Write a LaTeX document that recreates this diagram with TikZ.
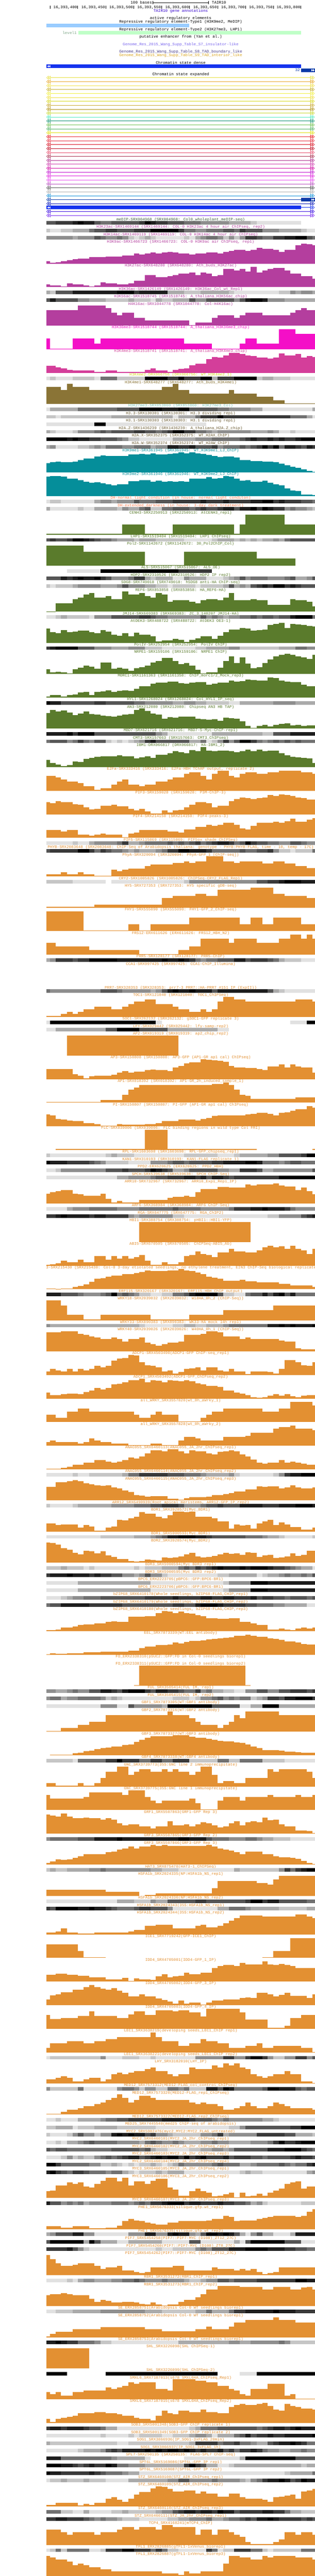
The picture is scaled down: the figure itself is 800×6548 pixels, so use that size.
\documentclass[tikz,border=0pt]{standalone}
\usepackage{fontspec}
\setmainfont{Liberation Mono}
\definecolor{lv1}{HTML}{E1E1E1}\definecolor{lv2}{HTML}{C6C6C6}\definecolor{lv3}{HTML}{AAAAAA}
\definecolor{lv4}{HTML}{8E8E8E}\definecolor{lv5}{HTML}{717171}\definecolor{lv6}{HTML}{555555}
\definecolor{lv7}{HTML}{393939}\definecolor{lv8}{HTML}{1D1D1D}\definecolor{lv9}{HTML}{000000}
\definecolor{cpur}{HTML}{B43E9E}\definecolor{cmag}{HTML}{F40FC7}\definecolor{cmet}{HTML}{D43E9A}
\definecolor{cyel}{HTML}{D8D820}\definecolor{cbrn}{HTML}{8A7436}\definecolor{ctel}{HTML}{7CC4B4}
\definecolor{colv}{HTML}{6B5A30}\definecolor{cteal}{HTML}{058E9A}\definecolor{ccor}{HTML}{FF7F50}
\definecolor{cgrn}{HTML}{5A7B2C}\definecolor{corg}{HTML}{E39032}\definecolor{cmed}{HTML}{3A5A3C}
\definecolor{dblue}{HTML}{1533EE}\definecolor{nblue}{HTML}{0A3AA8}
\newcount\cy \cy=557
\newcount\tn \tn=0
\def\snapx#1{\ifnum#1>1559 \def\sx{800}\else\pgfmathtruncatemacro\sx{round(127+14.18*round((#1/1.96-127)/14.18))}\fi}
\def\tracklabel#1#2{\global\advance\tn by 1 \node[lbl,text=#2] (lab\the\tn) at (459,\the\cy+3.5) {#1};}
\def\den#1#2#3{\tracklabel{#1}{#2}\xdef\px{118}%
 \foreach \e/\l in {#3}{\snapx{\e}\ifnum\l>0 \fill[lv\l] (\px,\the\cy+5) rectangle (\sx,\the\cy+14);\fi\xdef\px{\sx}}%
 \global\advance\cy by 19 }
\def\wig#1#2#3{\tracklabel{#1}{#2}\xdef\px{118}%
 \foreach \e/\h in {#3}{\snapx{\e}\ifnum\h>0 \fill[#2] (\px,\the\cy+56-\h) rectangle (\sx,\the\cy+56);\fi\xdef\px{\sx}}%
 \global\advance\cy by 60 }
\def\chl#1#2{\draw[#2,line width=.9pt] (123,#1-4) -- (118.5,#1) -- (123,#1+4) -- cycle (128,#1-4) -- (123.5,#1) -- (128,#1+4) -- cycle;}
\def\chr#1#2{\draw[#2,line width=.9pt] (794,#1-4) -- (798.5,#1) -- (794,#1+4) -- cycle (789,#1-4) -- (793.5,#1) -- (789,#1+4) -- cycle;}
\def\wl#1{\fill[white] (124,#1-3) -- (120,#1) -- (124,#1+3) -- cycle (128,#1-3) -- (124,#1) -- (128,#1+3) -- cycle;}
\def\wr#1{\fill[white] (791,#1-3) -- (795,#1) -- (791,#1+3) -- cycle (795,#1-3) -- (799,#1) -- (795,#1+3) -- cycle;}
\def\stateline#1#2{\chl{#1.5}{#2}\chr{#1.5}{#2}\fill[#2] (128,#1) rectangle (789,#1+1);}
\begin{document}
\catcode`\_=12
\begin{tikzpicture}[x=1pt,y=-1pt,
 lbl/.style={inner sep=0pt,anchor=base,font=\fontsize{10}{10}\selectfont},
 rul/.style={inner sep=0pt,anchor=base east,font=\fontsize{10}{10}\selectfont}]
\useasboundingbox[fill=white] (0,0) rectangle (800,6548);
% header
\node[rul] (sb1) at (386,9.5) {100 bases};
\coordinate (sbl) at (388,6.5); \coordinate (sbr) at (530,6.5);
\draw[line width=1pt] (sbl) -- (sbr);
\draw[line width=1pt] (388.5,3) -- (388.5,11) (529.5,3) -- (529.5,11);
\node[lbl,anchor=base west] (sb2) at (538,9.5) {TAIR10};
\draw[line width=1pt] (127,14) -- (127,22) (197.5,14) -- (197.5,22) (268.5,14) -- (268.5,22) (339.5,14) -- (339.5,22) (410.5,14) -- (410.5,22) (481.5,14) -- (481.5,22) (552.5,14) -- (552.5,22) (623.5,14) -- (623.5,22) (694.5,14) -- (694.5,22) (764.5,14) -- (764.5,22);
\node[rul] (r1) at (196,21.5) {16,393,400};
\node[rul] (r2) at (267,21.5) {16,393,450};
\node[rul] (r3) at (338,21.5) {16,393,500};
\node[rul] (r4) at (409,21.5) {16,393,550};
\node[rul] (r5) at (480,21.5) {16,393,600};
\node[rul] (r6) at (551,21.5) {16,393,650};
\node[rul] (r7) at (622,21.5) {16,393,700};
\node[rul] (r8) at (693,21.5) {16,393,750};
\node[rul] (r9) at (763,21.5) {16,393,800};
\node[lbl,text={rgb,255:red,51;green,0;blue,204}] (h1) at (459,30.5) {TAIR10 gene annotations};
\node[lbl] (h2) at (459,49.5) {active regulatory elements};
\node[lbl] (h3) at (459,58.5) {Repressive regulatory element-Type1 (H3K9me2, MeDIP)};
\fill[fill={rgb,255:red,153;green,204;blue,255}] (118,60) rectangle (481,69);
\node[lbl] (h4) at (459,77.5) {Repressive regulatory element-Type2 (H3K27me3, LHP1)};
\node[rul,text={rgb,255:red,128;green,168;blue,138}] (h5) at (195,86.5) {level1};
\fill[fill={rgb,255:red,192;green,255;blue,200}] (199,79) rectangle (765,88);
\node[lbl] (h6) at (459,96.5) {putative enhancer from (Yan et al.)};
\node[lbl,text={rgb,255:red,123;green,104;blue,238}] (h7) at (459,115.5) {Genome_Res_2015_Wang_Supp_Table_S7_insulator-like};
\node[lbl,text={rgb,255:red,72;green,61;blue,139}] (h8) at (459,134.5) {Genome_Res_2015_Wang_Supp_Table_S8_TAD_boundary_like};
\node[lbl,text={rgb,255:red,218;green,165;blue,32}] (h9) at (459,143.5) {Genome_Res_2015_Wang_Supp_Table_S9_TAD_interior_like};
\node[lbl] (h10) at (459,162.5) {Chromatin state dense};
\fill[dblue] (118,164) rectangle (765,173); \wl{168.5}
\node[rul,text=nblue] (h11) at (762,181.5) {32};
\fill[nblue] (765,174) rectangle (800,183); \wr{178.5}
\node[lbl] (h12) at (459,191.5) {Chromatin state expanded};
% expanded states
\def\scol#1#2{\definecolor{tmpc}{HTML}{#2}\stateline{#1}{tmpc}}
\scol{197}{E8E040}\scol{207}{E8A830}\scol{217}{F0E048}\scol{227}{C8B030}\scol{237}{F0F040}\scol{247}{F0E040}
\scol{257}{D8D820}\scol{267}{C8A830}\scol{277}{B09010}\scol{287}{C8D830}\scol{297}{50E8C0}\scol{307}{109070}
\scol{317}{70C050}\scol{327}{50B060}\scol{337}{E0E010}\scol{347}{E81820}\scol{357}{E83040}\scol{367}{D81020}
\scol{377}{C00820}\scol{387}{E85070}\scol{397}{A83050}\scol{407}{B03090}\scol{417}{D040B0}\scol{427}{D000A0}
\scol{437}{C010D0}\scol{447}{E020E0}\scol{457}{E850F0}\scol{467}{B850C0}\scol{477}{505050}\scol{487}{B0B0B0}
\scol{497}{1090D8}
\chl{507.5}{nblue}\fill[nblue] (128,507) rectangle (765,508);\fill[nblue] (765,503) rectangle (800,512);\wr{507.5}
\scol{517}{0818B8}
\chr{527.5}{dblue}\fill[dblue] (118,523) rectangle (765,532);\fill[dblue] (765,527) rectangle (789,528);\wl{527.5}
\scol{537}{3A10E0}\scol{547}{7A30F0}
% tracks
\den{meDIP-SRX004968 (SRX004968: Col0_wholeplant_meDIP-seq)}{cmed}{276/6,361/7,388/8,416/9,472/8,500/6,555/5,694/6,721/7,749/9,778/8,833/7,917/6,1000/5,1139/4,1250/3,1278/2,1499/1}
\den{H3K23ac-SRX1469144 (SRX1469144: COL-0 H3K23ac 4 hour air ChIPseq, rep2)}{cpur}{249/2,304/1,361/2,443/3,472/5,527/6,582/7,666/6,749/7,888/9,917/7,972/5,1027/4,1111/5,1166/6,1194/5,1223/7,1305/6,1390/4,1500/3,1529/2,1566/1}
\den{H3K14ac-SRX1469119 (SRX1469119: COL-0 H3K14ac 4 hour air ChIPseq)}{cpur}{361/4,388/3,472/4,500/6,527/5,582/4,610/5,639/4,666/2,694/1,721/2,749/3,778/2,917/1,945/2,972/1,1000/3,1027/4,1084/5,1111/4,1139/2,1166/4,1194/2,1223/4,1278/7,1305/6,1362/5,1417/7,1472/8,1529/9,1556/6,1566/5}
\wig{H3K9ac-SRX1466723 (SRX1466723: COL-0 H3K9ac air ChIPseq, rep1)}{cpur}{249/6,276/2,304/4,333/6,361/9,388/11,443/13,527/16,610/18,666/21,694/26,721/23,749/26,778/28,806/26,833/28,860/30,888/28,945/26,972/23,1027/26,1084/28,1111/26,1139/30,1166/32,1223/35,1250/32,1278/35,1305/40,1362/37,1390/35,1417/30,1472/35,1500/47,1529/51,1556/49,1566/47}
\wig{H3K27ac-SRX648280 (SRX648280: Ath_buds_H3K27ac)}{cpur}{249/7,304/4,333/2,361/10,416/7,443/4,472/2,500/4,527/13,582/10,639/7,666/10,721/16,778/31,833/25,860/28,888/31,945/34,972/37,1000/31,1027/37,1055/34,1084/28,1111/31,1166/46,1194/42,1223/46,1250/40,1278/51,1305/37,1333/42,1362/46,1417/49,1445/42,1500/34,1556/28,1566/22}
\den{H3K36ac-SRX1426149 (SRX1426149: H3K36ac_Col_wt_Rep1)}{cpur}{249/3,276/2,361/6,582/8,666/9,694/7,833/8,917/3,1000/2,1139/3,1166/2,1390/1,1445/2,1472/4,1500/3,1556/4,1566/3}
\den{H3K56ac-SRX1518745 (SRX1518745: A_thaliana_H3K56ac_chip)}{cpur}{249/6,276/8,388/6,443/4,527/3,639/2,666/3,749/2,778/1,806/3,860/2,945/3,972/6,1027/4,1166/6,1194/4,1223/6,1250/8,1305/9,1333/8,1417/4,1566/3}
\wig{H4K16ac-SRX1044778 (SRX1044778: Col-H4K16ac)}{cpur}{388/39,527/51,555/45,582/33,610/26,666/33,721/20,945/14,972/2,1055/8,1084/20,1166/26,1194/20,1223/26,1305/33,1445/26,1472/33,1500/39,1529/45,1566/39}
\wig{H3K36me3-SRX1518744 (SRX1518744: A_thaliana_H3K36me3_chip)}{cmag}{249/27,361/2,472/27,500/14,917/27,1055/14,1194/2,1223/14,1278/27,1390/14,1472/51,1566/39}
\wig{H3K4me3-SRX1518741 (SRX1518741: A_thaliana_H3K4me3_chip)}{cmet}{276/18,304/14,333/12,361/8,472/6,500/3,527/2,582/6,639/2,666/3,694/2,721/3,749/8,778/12,833/6,860/3,888/8,917/10,945/12,972/20,1027/23,1055/35,1084/41,1111/39,1139/45,1194/51,1223/48,1250/45,1278/43,1333/39,1362/37,1390/39,1417/50,1472/45,1500/48,1529/39,1556/43,1566/41}
\den{H3K4me2-DRX066756 (DRX066756: WT_H3K4me2_1)}{cyel}{249/1,276/2,361/1,472/2,500/1,582/5,721/2,833/9,888/7,917/9,1000/7,1055/9,1084/3,1166/7,1278/9,1305/2,1362/3,1445/2,1566/1}
\wig{H3K4me1-SRX648277 (SRX648277: Ath_buds_H3K4me1)}{cbrn}{304/43,333/35,361/51,443/43,806/35,860/43,888/51,945/35,1139/27,1166/35,1278/27,1362/18,1417/10,1566/2}
\den{H3K27me3-SRX853860 (SRX853860: H3K27me3_Col)}{ctel}{249/1,388/3,582/5,694/6,806/9,888/8,945/9,1084/6,1139/5,1250/4,1305/3,1556/1,1566/3}
\den{H3.3-SRX130301 (SRX130301: H3.3 dividing rep1)}{colv}{276/2,304/1,555/2,860/3,888/1,972/3,1000/5,1084/7,1111/9,1445/7,1529/5,1556/3,1566/1}
\den{H3.1-SRX130303 (SRX130303: H3.1 dividing rep1)}{colv}{472/1,527/9,1027/1}
\den{H2A.Z-SRX1436239 (SRX1436239: A_thaliana_H2A.Z_chip)}{colv}{249/3,276/2,361/1,388/2,472/4,500/5,527/6,555/5,666/6,721/7,778/6,806/5,833/6,860/7,917/9,972/7,1027/5,1055/4,1084/3,1250/4,1333/3,1362/4,1390/3,1445/1,1472/2,1566/1}
\den{H2A.X-SRX352375 (SRX352375: WT_H2AX_ChIP)}{colv}{333/9,361/8,388/9,443/8,500/7,582/6,610/5,639/4,694/2,860/1,972/3,1055/4,1194/5,1223/6,1250/7,1278/8,1333/7,1362/8,1390/7,1417/8,1472/7,1500/8,1566/9}
\den{H2A.W-SRX352374 (SRX352374: WT_H2AW_ChIP)}{colv}{249/3,276/4,388/1,443/2,472/3,500/4,527/3,610/5,666/4,749/5,778/3,833/4,888/8,945/7,972/8,1055/6,1084/7,1111/4,1194/5,1223/6,1250/5,1278/6,1305/7,1333/9,1362/7,1390/9,1417/5,1472/8,1500/7,1529/6,1556/8,1566/7}
\wig{H3K9me1-SRX361945 (SRX361945: WT_H3K9me1_LJ_ChIP)}{cteal}{249/24,276/26,304/27,361/26,388/27,416/31,443/35,472/36,500/41,527/43,639/42,694/46,721/47,749/46,778/48,833/46,860/47,888/48,917/51,945/49,972/51,1000/49,1027/47,1055/44,1084/42,1111/40,1166/41,1194/38,1250/31,1305/29,1333/28,1362/27,1390/26,1417/22,1445/19,1472/14,1500/12,1529/8,1556/4,1566/2}
\wig{H3K9me2-SRX361946 (SRX361946: WT_H3K9me2_LJ_ChIP)}{cteal}{249/50,304/51,333/50,361/45,388/44,416/40,443/36,472/34,500/35,527/32,555/30,582/28,639/30,694/38,749/40,778/36,806/39,833/37,860/38,888/36,917/38,945/37,972/44,1027/45,1055/48,1084/45,1111/46,1139/51,1166/50,1194/45,1223/39,1250/40,1278/36,1305/37,1333/39,1362/34,1390/30,1417/27,1445/19,1472/14,1500/13,1556/4,1566/2}
\den{DH-normal_light_condition (in house: normal light conditon)}{ccor}{249/1,304/2,472/1,500/3,555/4,582/3,666/4,694/6,778/5,860/6,1000/7,1027/8,1111/7,1139/8,1250/7,1305/8,1362/9,1390/7,1417/8,1500/7,1556/6,1566/5}
\den{DH-extended_darkness (in house: 3-day dark treatment)}{ccor}{249/3,388/1,416/2,472/1,582/3,610/2,639/4,694/3,721/5,749/6,806/2,860/5,945/6,972/5,1000/6,1027/7,1084/6,1111/7,1166/8,1194/6,1250/8,1278/9,1305/7,1333/9,1362/8,1417/7,1445/4,1472/5,1529/4,1556/3,1566/2}
\wig{CENH3-SRX2250913 (SRX2250913: AtCENH3_rep1)}{cgrn}{610/2,721/26,860/2,1166/26,1194/2,1223/26,1417/51,1566/26}
\den{LHP1-SRX1519404 (SRX1519404: LHP1 ChIPseq)}{cgrn}{249/6,276/7,333/6,361/7,416/9,443/8,472/7,500/6,555/5,582/4,666/3,694/2,778/3,917/2,1055/1,1084/2,1166/3,1194/2,1223/3,1250/2,1278/3,1305/2,1362/3,1390/4,1417/3,1445/5,1566/6}
\wig{Pol2-SRX1142672 (SRX1142672: 30_Pol2ChIP_Col)}{cgrn}{416/51,721/35,917/2,1278/35,1472/18}
\den{AL5-SRX515067 (SRX515067: AL5_OE)}{cgrn}{333/0,500/1,888/9,1054/7}
\den{HDP2-SRX2310526 (SRX2310526: HDP2 IP rep2)}{cgrn}{304/6,333/8,361/7,388/8,416/9,472/8,500/9,527/7,555/6,639/4,666/5,721/7,749/3,778/2,860/3,917/1,945/4,1027/3,1111/1,1139/2,1166/3,1194/4,1223/6,1250/4,1333/5,1417/4,1445/5,1472/6,1529/3,1556/4,1566/6}
\den{SDG8-SRX749018 (SRX749018: hSDG8 anti-HA ChIP-seq)}{cgrn}{249/2,276/1,361/2,388/3,500/4,582/3,610/4,639/6,721/4,778/3,833/2,860/1,972/2,1000/1,1111/2,1139/3,1166/6,1194/3,1223/4,1250/3,1278/6,1305/7,1333/8,1362/7,1417/9,1445/7,1472/8,1500/7,1566/6}
\wig{REF6-SRX853858 (SRX853858: HA_REF6-HA)}{cgrn}{276/1,361/21,388/32,416/36,443/44,472/48,527/36,555/40,610/32,639/51,694/44,721/48,749/40,778/36,806/48,833/44,860/25,945/29,972/25,1000/21,1027/29,1084/32,1111/29,1139/36,1166/48,1250/29,1278/32,1333/29,1445/17,1472/32,1529/29,1556/25,1566/13}
\den{JMJ14-SRX669383 (SRX669383: ZC_3_140207 JMJ14-HA)}{cgrn}{276/1,304/2,333/3,443/2,472/1,555/4,694/6,749/7,778/6,833/5,1000/4,1027/6,1055/4,1084/5,1111/4,1139/3,1194/4,1250/5,1278/6,1305/5,1362/6,1390/5,1445/6,1472/8,1556/9,1566/5}
\wig{AtDEK3-SRX488722 (SRX488722: AtDEK3 OE3-1)}{cgrn}{249/36,276/27,304/24,333/33,361/27,388/29,443/31,472/27,500/24,527/33,555/29,582/20,610/18,639/24,666/17,694/26,749/20,778/17,806/4,860/6,888/10,917/8,945/2,972/8,1000/12,1055/17,1084/10,1111/18,1139/27,1194/34,1223/38,1250/36,1278/31,1305/33,1333/34,1362/45,1390/48,1417/51,1445/38,1472/48,1500/47,1529/45,1556/43,1566/41}
\den{PolIV-SRX252954 (SRX252954: PolIV ChIP)}{cgrn}{249/7,276/8,388/9,472/6,555/4,639/3,721/4,806/2,972/1,1027/2,1139/3,1194/4,1390/2,1472/3,1529/5,1566/4}
\wig{NRPE1-SRX159106 (SRX159106: NRPE1 ChIP)}{cgrn}{249/12,276/4,304/5,333/4,361/2,388/12,416/16,443/21,472/19,500/13,555/29,582/13,610/16,639/13,666/8,694/15,721/17,749/21,778/29,806/33,860/41,888/33,917/25,945/28,972/21,1000/11,1027/2,1084/4,1111/16,1139/33,1166/45,1194/28,1223/42,1250/26,1278/15,1305/17,1333/28,1362/37,1390/44,1417/48,1445/51,1472/48,1500/45,1529/42,1556/38,1566/48}
\wig{MORC1-SRX1161363 (SRX1161358: ChIP_morc1/2_Mock_rep3)}{cgrn}{249/3,304/6,333/2,361/7,388/8,416/13,443/14,472/7,500/14,527/15,555/18,582/14,610/17,639/18,666/17,694/22,721/28,749/29,778/35,833/38,888/40,917/36,945/35,972/38,1027/39,1055/32,1084/35,1139/38,1166/43,1194/40,1223/42,1250/46,1278/44,1333/43,1362/51,1390/49,1417/43,1445/40,1500/39,1529/32,1556/29,1566/28}
\den{HYL1-SRX1268024 (SRX1268024: Col_HYL1_IP_seq)}{cgrn}{249/9,304/8,472/6,527/7,666/6,721/5,860/4,917/3,972/4,1027/3,1139/2,1194/1,1362/3,1472/4,1566/3}
\wig{AN3-SRX212080 (SRX212080: Chipseq AN3 HB TAP)}{cgrn}{249/39,276/48,304/44,333/46,361/41,388/34,416/38,443/43,472/37,500/35,527/33,555/32,582/30,610/33,639/36,666/37,694/48,721/51,749/45,778/38,806/36,833/25,860/29,888/28,972/30,1000/25,1027/24,1055/23,1084/24,1111/20,1139/28,1166/26,1194/25,1223/18,1250/7,1278/2,1305/7,1333/10,1362/5,1390/9,1417/12,1445/13,1472/8,1500/9,1529/7,1566/8}
\den{MBD7-SRX621716 (SRX621716: MBD7-5-Myc-ChIP-rep1)}{cgrn}{333/8,361/9,388/7,472/9,778/6,806/4,833/3,1055/1,1305/3,1362/2,1445/6,1566/8}
\den{CMT3-SRX157663 (SRX157663: CMT3_ChIPseq)}{cgrn}{249/5,333/6,361/4,388/5,416/7,443/5,472/4,527/6,555/2,582/1,610/2,639/1,666/2,694/3,721/4,749/7,778/8,945/6,1000/3,1027/5,1055/1,1084/2,1111/4,1139/7,1166/4,1194/6,1250/9,1278/7,1305/5,1333/4,1362/5,1390/6,1417/5,1445/6,1472/5,1500/6,1566/5}
\wig{IBM1-DRX066817 (DRX066817: HA-IBM1_2)}{cgrn}{249/18,276/11,304/6,333/2,361/5,388/15,416/13,443/21,472/23,500/26,555/27,582/28,610/30,666/28,694/22,721/25,749/27,778/23,833/31,860/35,888/41,917/38,945/35,972/43,1000/40,1027/51,1055/42,1084/40,1139/42,1166/40,1194/38,1223/40,1250/44,1278/41,1305/44,1333/40,1390/42,1417/36,1445/30,1472/26,1500/25,1529/23,1556/22,1566/10}
\wig{E2Fa-SRX333416 (SRX333416: E2Fa-HBH TChAP output, replicate 2)}{corg}{276/38,304/34,333/29,388/24,416/20,472/11,500/2,555/6,582/15,610/24,639/29,694/15,721/11,778/15,833/24,860/29,917/34,945/43,1000/47,1027/38,1055/29,1084/43,1139/51,1166/38,1194/34,1223/43,1278/47,1333/43,1390/47,1500/51,1556/47,1566/43}
\wig{PIF3-SRX159028 (SRX159028: P3M-ChIP-3)}{corg}{249/31,276/29,304/33,361/31,388/26,416/24,443/18,472/12,500/14,527/22,555/22,582/24,639/20,666/14,694/10,721/14,749/8,806/2,833/10,860/5,888/10,917/11,945/18,972/24,1027/31,1055/29,1084/18,1139/22,1166/33,1194/39,1223/43,1250/41,1278/39,1305/41,1333/43,1362/49,1390/47,1417/51,1445/49,1472/47,1500/43,1529/41,1566/37}
\wig{PIF4-SRX214150 (SRX214150: PIF4-peaks-3)}{corg}{304/20,333/16,388/20,443/8,472/6,500/8,527/11,610/8,639/2,666/11,694/14,833/20,888/16,917/14,972/21,1027/28,1055/33,1084/31,1111/33,1166/38,1194/34,1223/24,1250/21,1278/31,1362/38,1390/41,1417/38,1445/42,1472/49,1529/41,1556/46,1566/51}
\den{PIF5-SRX115869 (SRX115869: PIF5ox shade ChIPSeq)}{corg}{361/1,388/2,443/1,472/3,582/4,610/5,639/7,694/3,721/4,833/5,860/6,888/5,917/6,945/5,972/6,1000/7,1027/5,1055/6,1084/7,1139/8,1166/7,1194/5,1223/6,1250/9,1278/7,1333/6,1390/5,1445/4,1500/6,1529/5,1566/4}
\den{PHYB-SRX2083648 (SRX2083648: ChIP-Seq of Arabidopsis thaliana: genotype - PHYB:PHYB-FLAG, time - 10, temp - 17C)}{corg}{249/6,388/7,443/9,472/7,500/5,527/7,555/6,610/5,639/4,666/3,694/4,778/3,806/4,833/5,888/7,945/9,1027/8,1055/7,1194/5,1223/6,1278/5,1333/6,1362/7,1390/4,1445/2,1472/1,1556/2,1566/5}
\wig{PhyA-SRX320094 (SRX320094: PhyA-GFP_1 [ChIP-seq])}{corg}{304/6,333/11,388/6,416/11,472/6,555/2,582/18,610/13,639/18,721/20,749/26,860/31,917/34,945/39,972/34,1027/39,1111/51,1166/39,1194/34,1305/39,1362/33,1417/39,1472/33,1529/26,1566/21}
\den{CRY2-SRX1005826 (SRX1005826: ChIPSeq-CRY2_FLAG_Rep1)}{corg}{361/2,527/1,555/0,917/1,945/2,1278/4,1333/6,1390/7,1417/8,1500/9,1566/8}
\wig{HY5-SRX727353 (SRX727353: HY5 specific gDB-seq)}{corg}{472/2,806/7,860/24,972/29,1027/35,1084/29,1250/46,1362/51,1417/35,1529/29,1566/24}
\wig{FHY1-SRX555090 (SRX555090: FHY1-GFP_2_ChIP-seq)}{corg}{416/51,639/2,694/18,749/2,945/18,1194/35,1250/18,1305/35,1362/18,1500/35,1566/18}
\wig{FRS12-ERX611626 (ERX611626: FRS12_HBH_N2)}{corg}{276/31,443/21,694/12,888/2,945/12,1000/21,1139/41,1166/31,1278/41,1390/31,1445/41,1500/51,1529/41,1556/51,1566/41}
\den{PRR5-SRX128177 (SRX128177: PRR5-ChIP)}{corg}{249/3,276/4,361/7,388/6,443/7,582/9,806/8,833/9,888/8,917/9,945/8,972/7,1000/5,1027/4,1084/5,1166/6,1223/8,1250/6,1333/7,1362/6,1390/5,1417/3,1500/2,1566/1}
\wig{CCA1-SRX997425 (SRX997425: CCA1-ChIP_Illumina)}{corg}{1566/0}
\den{PRR7-SRX328353 (SRX328353: prr7-3 PRR7::HA-PRR7 \#151 IP (ExpII))}{corg}{249/5,500/4,582/6,610/5,749/4,778/3,806/4,833/6,860/8,888/9,945/8,972/9,1055/8,1084/6,1333/8,1362/6,1390/3,1417/2,1566/1}
\wig{TOC1-SRX121040 (SRX121040: TOC1_ChIPSeq)}{corg}{304/2,333/8,361/13,388/8,416/13,472/20,555/26,610/20,639/26,666/32,721/39,778/44,860/32,888/26,945/20,1000/13,1027/20,1055/13,1084/20,1111/39,1166/51,1223/44,1472/39,1556/44,1566/39}
\den{SOC1-SRX262132 (SRX262132: gSOC1-GFP replicate 3)}{corg}{249/1,778/9,806/1,1445/0,1529/1,1566/9}
\den{LFY-SRX029442 (SRX029442: lfy-samp-rep2)}{corg}{276/1,527/3,582/6,694/9,833/6,1084/3,1139/1}
\wig{AP2-SRX019319 (SRX019319: ap2_chip_rep2)}{corg}{333/0,888/51}
\wig{AP3-SRX150808 (SRX150808: AP3-GFP (AP1-GR ap1 cal) ChIPseq)}{corg}{361/25,388/12,416/8,443/2,472/7,527/9,555/8,582/11,610/16,639/20,666/17,721/19,749/23,778/24,833/23,860/21,888/29,917/33,945/40,1000/42,1027/51,1055/49,1084/48,1111/46,1139/44,1166/33,1223/29,1278/28,1305/25,1333/23,1390/32,1417/37,1445/30,1472/38,1500/32,1556/29,1566/16}
\wig{AP1-SRX018392 (SRX018392: AP1-GR_2h_induced_sample_1)}{corg}{500/2,610/7,639/20,666/33,694/39,1055/45,1111/48,1139/51,1166/45,1194/33,1223/20,1250/17,1472/10,1566/13}
\wig{PI-SRX150807 (SRX150807: PI-GFP (AP1-GR ap1 cal) ChIPseq)}{corg}{249/30,276/28,304/19,333/17,361/15,416/13,472/8,500/6,582/2,610/6,721/4,778/6,806/8,888/13,972/17,1000/15,1027/19,1055/21,1084/26,1223/28,1250/30,1278/32,1333/34,1362/32,1390/28,1417/34,1445/36,1472/39,1529/43,1556/51,1566/48}
\wig{FLC-SRX039006 (SRX039006: FLC binding regions in wild type Col FRI)}{corg}{276/0,721/2,833/51,1278/2,1556/0,1566/2}
\den{RPL-SRX1603698 (SRX1603698: RPL-GFP_chipseq_rep1)}{corg}{249/2,527/1,555/2,582/3,666/2,917/1,1084/2,1166/1,1194/2,1333/3,1390/4,1500/6,1529/7,1566/9}
\den{KAN1-SRX310193 (SRX310193: KAN1-FLAG replicate 1)}{corg}{249/9,333/8,443/7,472/6,500/5,527/4,639/2,749/1,833/4,860/5,917/6,945/5,1055/6,1111/7,1223/8,1278/9,1305/8,1390/5,1417/4,1445/5,1500/6,1566/5}
\den{PPD2-ERX620625 (ERX620625: PPD2_HBH)}{corg}{276/1,304/2,527/4,610/6,639/7,721/6,749/7,778/9,806/8,833/7,860/6,917/3,945/4,1084/6,1139/4,1194/3,1278/7,1305/6,1362/3,1556/4,1566/6}
\den{SPCH-SRX539638 (SRX539638: SPCH ChIP-Seq)}{corg}{582/1,639/3,749/4,778/5,833/6,917/7,972/8,1000/7,1027/8,1055/6,1111/8,1139/7,1166/6,1390/7,1566/9}
\wig{ARR10-SRX732967 (SRX732967: ARR10_Exp1_Rep1_IP)}{corg}{249/25,276/28,304/31,361/34,388/25,416/23,500/20,527/25,555/12,582/3,610/6,639/2,694/3,833/9,860/14,917/17,945/20,972/17,1000/28,1084/37,1139/42,1223/40,1250/48,1278/45,1362/48,1390/51,1417/45,1472/43,1500/34,1529/40,1556/31,1566/23}
\den{ARF6-SRX368984 (SRX368984: ARF6 ChIP-Seq)}{corg}{333/1,361/3,443/4,582/5,694/4,860/5,888/6,1000/5,1139/4,1166/5,1250/7,1305/8,1333/9,1417/8,1445/7,1472/5,1566/4}
\den{RGA-SRX647775 (SRX647775: RGA_ChIP2)}{corg}{276/7,304/8,333/9,443/8,472/7,527/8,639/7,666/4,694/3,860/4,917/2,1333/1,1390/2,1500/4,1529/6,1556/7,1566/8}
\wig{HBI1-SRX388754 (SRX388754: pHBI1::HBI1-YFP)}{corg}{694/0,1250/51}
\wig{ABI5-SRX670505 (SRX670505: ChIPSeq-ABI5_Ab)}{corg}{249/2,276/3,304/6,333/12,388/9,416/15,472/9,527/24,555/15,582/24,610/18,639/24,666/18,694/21,721/27,749/12,806/2,833/9,888/3,917/9,945/24,972/27,1000/36,1027/30,1055/27,1084/21,1139/33,1166/43,1223/36,1278/33,1305/39,1333/46,1362/51,1390/46,1417/49,1445/43,1472/51,1500/43,1529/39,1556/30,1566/43}
\wig{\hspace*{2pt}3-SRX215430 (SRX215430: Col-0 3-day etiolated seedlings, no ethylene treatment, EIN3 ChIP-Seq biological replicate}{corg}{276/2,304/1,361/2,388/6,416/8,443/12,472/19,500/26,527/28,555/32,610/34,666/38,694/41,721/43,749/47,833/46,888/48,917/51,945/48,972/46,1000/42,1027/39,1055/32,1084/29,1111/26,1194/22,1223/24,1278/20,1390/17,1417/14,1445/13,1556/10,1566/6}
\den{ERF115-SRX320167 (SRX320167: ERF115-HBH ChIP output)}{corg}{304/8,388/6,416/5,500/4,527/5,555/6,582/9,610/5,639/6,666/5,694/4,749/2,806/1,860/2,917/5,945/6,972/8,1084/9,1111/6,1166/2,1223/1,1250/5,1305/6,1333/8,1362/6,1390/8,1417/9,1445/6,1472/8,1566/5}
\wig{WRKY18-SRX2039032 (SRX2039032: W18HA_0h_2 (ChIP-Seq))}{corg}{304/51,333/38,416/14,500/2,749/14,945/2,1111/14,1362/26,1566/38}
\den{WRKY33-SRX890383 (SRX890383: WK33-HA mock 14h rep1)}{corg}{249/4,694/3,721/2,860/1,917/2,972/3,1027/2,1111/3,1139/4,1333/5,1390/8,1417/9,1445/8,1472/9,1556/8,1566/9}
\wig{WRKY40-SRX2039026 (SRX2039026: W40HA_0h_1 (ChIP-Seq))}{corg}{304/48,388/51,416/45,443/42,472/38,500/35,555/31,582/35,610/31,639/25,694/31,721/35,749/22,778/18,806/15,833/18,888/22,917/25,1000/42,1027/45,1084/51,1111/48,1194/38,1223/31,1250/35,1390/31,1417/28,1472/25,1500/8,1566/5}
\wig{ADCP1-SRX4503490(ADCP1-GFP ChIP-seq_rep1)}{corg}{249/9,276/15,304/12,333/9,361/15,388/9,416/15,443/12,472/15,500/23,527/20,555/23,582/36,610/41,639/43,666/51,694/49,721/33,749/25,778/23,806/20,833/9,860/12,888/4,917/7,945/15,972/17,1000/20,1027/12,1084/20,1111/12,1139/9,1166/15,1223/9,1250/2,1333/9,1362/7,1390/4,1417/15,1472/38,1500/33,1529/25,1556/23,1566/33}
\wig{ADCP1_SRX4503492(ADCP1-GFP_ChIPseq_rep2)}{corg}{249/15,276/9,304/8,333/11,361/12,388/13,416/11,443/16,472/21,500/27,527/23,555/27,582/36,610/38,639/42,666/46,694/47,721/51,749/42,778/46,806/45,833/42,860/46,888/45,917/44,945/46,972/44,1000/39,1027/36,1084/32,1111/29,1166/20,1194/15,1223/12,1250/8,1278/3,1305/2,1333/3,1362/7,1390/11,1417/7,1445/11,1472/6,1500/3,1529/7,1566/9}
\wig{all_WRKY_SRX3557820(wt_0h_aWrky_1)}{corg}{276/19,333/11,388/27,443/34,666/27,694/19,749/11,778/19,806/27,888/19,1000/2,1027/11,1055/19,1111/27,1305/34,1390/27,1445/34,1556/51,1566/43}
\wig{all_WRKY_SRX3557828(wt_0h_aWrky_2)}{corg}{249/9,276/14,388/9,416/5,443/9,472/18,500/14,555/9,639/5,749/2,806/5,888/2,917/14,972/22,1000/18,1111/14,1223/22,1250/25,1362/33,1390/44,1445/48,1472/51,1556/44,1566/40}
\wig{ANAC055_SRX6460113(ANAC055_JA_2hr_ChIPseq_rep1)}{corg}{304/2,333/4,361/7,416/12,472/17,527/23,555/20,582/17,610/20,639/23,666/30,694/28,721/33,749/41,806/49,833/46,888/51,917/46,945/41,972/49,1027/46,1055/41,1084/38,1111/44,1139/46,1166/49,1194/46,1223/38,1250/33,1278/25,1305/17,1333/15,1390/17,1417/23,1445/17,1472/20,1500/17,1529/15,1566/12}
\den{ANAC055_SRX6460114(ANAC055_JA_2hr_ChIPseq_rep2)}{corg}{361/1,388/2,443/1,610/2,639/3,694/5,833/7,917/6,1000/5,1027/4,1139/3,1166/4,1194/2,1362/1,1390/2,1417/4,1445/7,1500/8,1566/9}
\wig{ANAC055_SRX6460115(ANAC055_JA_2hr_ChIPseq_rep3)}{corg}{276/34,333/46,361/49,388/51,416/49,443/44,472/41,500/39,527/37,555/38,582/33,610/30,639/26,666/21,694/14,721/12,749/10,833/11,888/5,917/2,945/6,1027/8,1055/10,1111/14,1139/16,1166/19,1223/23,1278/28,1305/36,1333/34,1390/36,1417/30,1445/33,1472/39,1500/33,1556/31,1566/33}
\den{ARR12_SRX6490939(Root apical meristems, ARR12-GFP_IP_rep2)}{corg}{249/2,361/1,388/2,555/3,666/4,749/5,806/6,888/7,917/6,1000/4,1027/5,1084/6,1111/7,1194/6,1305/8,1390/7,1472/8,1556/9,1566/8}
\wig{BDR1_SRX3928572(Myc_BDR1)}{corg}{249/20,276/21,304/17,388/18,416/10,443/17,472/13,527/2,555/10,582/13,610/30,639/28,666/34,694/37,721/50,778/46,806/37,833/34,860/41,917/51,945/50,972/51,1000/37,1055/38,1084/34,1139/26,1166/7,1194/18,1223/15,1250/17,1278/8,1305/21,1333/26,1362/30,1390/17,1417/23,1445/18,1500/11,1556/5,1566/10}
\den{BDR1_SRX5900593(Myc_BDR1)}{corg}{500/1,666/2,749/3,778/4,806/5,833/6,888/8,972/9,1027/8,1055/7,1223/6,1305/5,1333/4,1390/3,1417/2,1556/1,1566/2}
\wig{BDR2_SRX3928574(Myc_BDR2)}{corg}{249/51,276/50,304/46,333/37,361/33,388/25,416/21,443/30,472/29,500/23,527/29,555/19,582/14,639/9,666/4,694/2,721/4,749/8,778/6,806/5,833/13,860/12,888/13,917/16,945/21,972/25,1000/16,1027/13,1055/15,1084/17,1111/21,1139/25,1166/22,1194/23,1223/20,1250/26,1278/25,1305/14,1333/19,1362/20,1390/12,1417/13,1445/16,1472/23,1500/17,1529/20,1566/30}
\den{BDR3_SRX5900594(Myc BDR3 rep1)}{corg}{304/2,333/3,416/2,443/1,472/2,666/1,694/2,721/1,806/2,888/3,917/5,945/6,972/5,1000/7,1027/6,1055/7,1084/8,1111/9,1194/8,1223/9,1250/8,1333/9,1362/8,1417/7,1445/6,1472/5,1500/4,1556/3,1566/1}
\den{BDR3_SRX5900595(Myc BDR3 rep2)}{corg}{249/7,333/8,361/9,443/8,472/7,500/8,555/7,610/6,666/4,694/3,721/4,749/6,806/4,833/2,1084/1,1139/2,1278/3,1305/1,1333/2,1390/3,1417/4,1445/5,1500/4,1529/5,1556/4,1566/6}
\den{BPC6_ERX2223705(pBPC6::GFP:BPC6-BR1)}{corg}{388/1,749/3,1111/1,1139/2,1250/4,1333/9,1566/8}
\den{BPC6_ERX2223706(pBPC6::GFP:BPC6-BR1)}{corg}{388/1,749/3,1111/1,1139/2,1250/4,1333/9,1566/8}
\den{bZIP68_SRX6410178(Whole seedlings, bZIP68-FLAG,CHIP,rep1)}{corg}{304/1,333/2,361/3,416/4,500/5,721/6,860/7,888/8,917/7,1000/7,1055/8,1111/7,1166/8,1250/7,1278/8,1305/6,1362/7,1417/6,1445/5,1529/6,1556/5,1566/6}
\den{bZIP68_SRX6410179(Whole seedlings, bZIP68-FLAG,CHIP,rep2)}{corg}{249/5,304/6,443/8,610/7,860/6,917/7,972/6,1000/8,1084/9,1111/8,1223/7,1278/6,1362/5,1417/4,1529/3,1566/1}
\wig{bZIP68_SRX6410180(Whole seedlings, bZIP68-FLAG,CHIP,rep3)}{corg}{276/2,304/4,361/9,388/12,416/15,472/17,527/20,555/23,582/25,639/23,721/36,778/38,806/46,833/51,860/49,888/46,917/49,945/46,972/44,1000/41,1027/38,1084/33,1139/31,1194/33,1250/23,1278/20,1333/15,1390/4,1417/7,1445/4,1472/2,1500/7,1529/9,1556/7,1566/9}
\wig{EEL_SRX7873339(WT:EEL antibody)}{corg}{249/1,276/3,333/2,416/4,500/6,555/7,639/8,694/10,721/17,749/20,778/21,833/25,860/26,888/31,917/29,945/32,1000/35,1027/36,1055/39,1084/40,1111/41,1139/43,1166/44,1223/48,1250/51,1278/48,1305/46,1333/45,1362/42,1390/40,1417/37,1472/34,1500/31,1529/27,1566/26}
\den{FD_ERX2338310(pSUC2::GFP:FD in Col-0 seedlings biorep1)}{corg}{1566/0}
\wig{FD_ERX2338311(pSUC2::GFP:FD in Col-0 seedlings biorep2)}{corg}{666/0,694/2,1223/51,1250/2}
\den{FUL_SRX3505414(FUL IM, rep1)}{corg}{276/4,333/3,361/4,388/5,443/4,500/6,555/8,582/7,610/6,639/8,721/9,749/7,778/6,833/8,888/7,917/6,972/5,1000/7,1027/4,1055/5,1111/3,1166/2,1223/1,1278/4,1333/6,1390/4,1445/6,1529/7,1556/6,1566/7}
\den{FUL_SRX3505415(FUL IM, rep2)}{corg}{249/4,304/5,333/3,388/4,500/5,527/4,555/2,582/3,610/2,860/1,945/2,972/1,1000/2,1055/4,1084/5,1111/6,1139/4,1166/5,1194/4,1250/5,1278/2,1305/3,1333/4,1390/7,1417/6,1472/8,1556/9,1566/7}
\den{GBF1_SRX7873305(WT:GBF1 antibody)}{corg}{500/1,582/4,639/1,666/6,806/4,833/3,1055/9,1194/6,1250/1,1305/3,1390/9,1566/3}
\wig{GBF2_SRX7873316(WT:GBF2 antibody)}{corg}{304/2,388/10,443/18,527/26,833/43,860/51,945/43,972/35,1000/26,1084/18,1111/10,1139/18,1166/26,1194/43,1223/35,1390/51,1566/43}
\wig{GBF3_SRX7873327(WT:GBF3 antibody)}{corg}{249/0,304/1,361/2,388/5,416/7,443/11,472/12,500/16,527/18,555/20,610/23,639/26,666/28,694/34,721/39,749/45,860/49,945/51,972/48,1027/45,1055/42,1084/39,1111/37,1139/35,1166/36,1194/33,1223/32,1250/28,1278/23,1305/18,1333/14,1390/13,1417/12,1472/10,1500/8,1566/7}
\den{GBF4_SRX7873338(WT:GBF4 antibody)}{corg}{361/2,388/1,527/5,582/7,610/9,694/7,749/5,806/7,860/5,945/7,1084/2,1139/5,1194/2,1305/5,1417/2,1566/1}
\wig{GNC_SRX3739773(35S:GNC line 2 immunoprecipitate)}{corg}{276/9,388/2,416/9,472/2,500/9,527/22,582/37,639/51,666/29,694/37,749/44,806/37,833/44,860/37,888/44,945/37,972/29,1000/37,1055/51,1084/29,1111/9,1166/14,1223/9,1333/22,1362/44,1390/37,1529/44,1556/37,1566/22}
\wig{GNC_SRX3739775(35S:GNC line 1 immunoprecipitate)}{corg}{249/39,416/29,443/33,610/45,639/39,721/50,749/33,778/24,806/18,945/24,972/29,1000/18,1084/2,1111/24,1194/33,1223/24,1333/33,1362/39,1472/33,1500/39,1556/33,1566/39}
\wig{GRF1_SRX5507863(GRF1-GFP Rep 3)}{corg}{249/49,276/46,304/44,333/51,361/44,416/39,443/41,500/39,527/36,555/39,582/36,610/27,639/21,694/24,749/18,778/13,833/18,860/31,917/21,945/24,972/18,1000/24,1027/29,1055/27,1084/21,1111/16,1139/18,1166/27,1194/31,1223/21,1250/29,1278/31,1305/29,1333/41,1362/34,1390/36,1417/24,1472/18,1529/8,1556/7,1566/2}
\den{GRF3_SRX5507865(GRF3-GFP Rep 2)}{corg}{249/4,388/5,472/6,582/8,610/9,888/8,945/9,1027/8,1055/6,1139/5,1223/4,1278/5,1305/4,1362/3,1445/2,1566/1}
\wig{GRF3_SRX5507866(GRF3-GFP Rep 3)}{corg}{249/5,276/8,304/14,333/12,361/14,388/17,416/22,527/27,555/32,582/34,610/38,639/41,666/46,694/41,749/46,778/50,806/48,833/50,1027/48,1055/51,1084/46,1111/41,1139/39,1166/36,1194/32,1223/27,1305/34,1362/27,1390/22,1445/19,1472/17,1500/15,1529/10,1556/5,1566/2}
\den{HAT3_SRX875470(HAT3-1_ChIPSeq)}{corg}{249/2,276/3,333/2,443/3,500/4,527/5,749/4,806/3,888/2,1166/1,1194/3,1390/2,1417/4,1445/7,1472/5,1500/7,1529/8,1566/9}
\wig{HSFA1b_SRX2024335(NP:HSFA1b_NS_rep1)}{corg}{527/15,694/10,721/0,778/2,1055/6,1084/20,1278/38,1333/33,1362/29,1390/42,1566/51}
\den{HSFA1b_SRX2024336(NP:HSFA1b_NS_rep2)}{corg}{582/1,666/3,749/2,778/4,833/3,972/6,1027/7,1223/6,1250/7,1305/9,1333/7,1390/8,1529/6,1566/5}
\den{HSFA1b_SRX2024343(35S:HSFA1b_NS_rep1)}{corg}{249/7,276/6,388/9,443/8,472/9,527/8,555/7,582/6,666/5,694/6,749/7,833/6,860/4,1084/1,1139/3,1223/5,1250/4,1390/3,1529/2,1566/3}
\wig{HSFA1b_SRX2024344(35S:HSFA1b_NS_rep2)}{corg}{276/5,304/8,333/15,388/5,472/2,639/5,666/8,721/11,778/22,860/25,972/15,1000/22,1027/25,1084/18,1111/22,1139/28,1166/35,1194/42,1305/48,1472/45,1529/51,1556/45,1566/42}
\wig{ICE1_SRX7719242(GFP-ICE1_ChIP)}{corg}{388/35,416/18,527/2,1305/0,1362/2,1445/18,1566/51}
\wig{IDD4_SRX4705001(IDD4-GFP_1_IP)}{corg}{276/17,333/20,388/17,443/15,527/11,610/6,639/9,666/2,694/8,749/6,778/4,806/13,833/19,860/11,888/14,917/15,945/22,1000/19,1055/22,1084/34,1111/39,1166/42,1194/39,1223/47,1305/44,1333/51,1362/44,1390/42,1417/45,1445/42,1472/40,1566/34}
\wig{IDD4_SRX4705002(IDD4-GFP_3_IP)}{corg}{249/15,276/25,304/28,361/33,416/40,443/46,472/51,500/46,527/42,555/39,582/43,610/37,639/32,694/23,721/27,778/23,806/17,833/13,860/9,888/4,917/12,945/4,1000/7,1027/2,1055/6,1111/12,1194/14,1223/19,1250/20,1278/19,1333/32,1362/27,1390/22,1417/26,1445/32,1529/24,1556/19,1566/27}
\wig{IDD4_SRX4705003(IDD4-GFP_4_IP)}{corg}{249/35,304/25,388/28,443/33,472/45,582/33,639/28,666/37,721/45,778/35,860/47,888/45,945/47,1000/42,1027/31,1194/51,1223/42,1333/23,1417/2,1445/8,1500/28,1566/35}
\wig{LEC1_SRX3638219(developing seeds_LEC1_ChIP rep1)}{corg}{249/12,333/23,416/28,472/23,527/28,582/34,749/39,778/51,806/39,888/28,945/17,1000/23,1027/34,1084/28,1139/23,1223/12,1278/17,1305/23,1362/12,1500/17,1556/12,1566/1}
\den{LEC1_SRX3638221(developing seeds_LEC1_ChIP rep2)}{corg}{249/1,500/2,527/4,610/1,694/2,749/1,778/2,972/1,1111/4,1166/7,1223/4,1250/7,1305/9,1333/7,1362/4,1417/2,1472/4,1529/7,1556/4,1566/6}
\wig{LHY_SRX3182010(LHY_IP)}{corg}{276/10,304/14,333/19,361/14,416/5,443/10,500/14,527/5,555/10,582/23,610/28,639/23,666/28,721/32,749/37,778/41,833/32,860/23,888/19,945/23,972/41,1055/37,1084/46,1111/41,1139/51,1166/46,1194/51,1223/41,1250/37,1278/23,1305/19,1333/14,1362/19,1417/23,1445/32,1500/23,1556/5,1566/1}
\den{MED12_SRX7573312(MED12-FLAG_col_control_ChIPseq)}{corg}{249/4,388/2,416/5,582/1,610/4,666/5,694/4,721/2,778/4,833/2,888/5,917/4,945/5,1027/2,1084/8,1111/6,1139/9,1166/8,1305/5,1333/6,1390/9,1472/8,1500/6,1529/5,1566/6}
\wig{MED12_SRX7573320(MED12-FLAG_rep1_ChIPseq)}{corg}{304/2,333/7,388/12,416/16,472/22,500/27,527/31,555/37,582/42,610/51,639/42,666/31,694/37,749/47,778/42,945/37,972/31,1000/27,1027/31,1084/27,1111/22,1166/12,1194/16,1223/22,1250/31,1278/22,1333/16,1362/22,1390/31,1417/27,1445/22,1556/16,1566/12}
\den{MED12_SRX7573322(MED12-FLAG_rep2_ChIPseq)}{corg}{276/1,304/2,388/1,500/3,527/4,582/5,639/6,806/7,917/8,945/8,972/7,1055/6,1084/5,1111/4,1139/5,1305/4,1362/3,1390/2,1566/1}
\den{MED25_SRX7445540(med25 ChIP-seq of arabidopsis)}{corg}{276/2,361/3,388/1,472/2,582/3,778/2,1139/1,1194/2,1223/4,1445/6,1500/7,1566/9}
\den{MYC2_SRX5982476(myc2_MYC2:MYC2_FLAG_untreated)}{corg}{249/2,333/1,361/2,388/4,416/6,472/4,500/2,555/4,582/8,610/9,639/8,666/9,721/8,749/6,778/7,833/4,860/3,1000/2,1055/4,1084/5,1111/7,1139/3,1278/4,1417/7,1472/6,1556/3,1566/2}
\den{MYC2_SRX6460101(MYC2_JA_2hr_ChIPseq_rep1)}{corg}{276/1,304/2,333/1,388/3,416/4,443/5,472/6,582/5,694/4,721/3,749/5,778/6,806/5,860/4,888/5,917/4,945/3,1000/3,1055/4,1084/5,1139/4,1250/3,1333/4,1362/5,1390/7,1417/9,1472/7,1500/8,1566/9}
\den{MYC2_SRX6460102(MYC2_JA_2hr_ChIPseq_rep2)}{corg}{249/6,276/5,333/6,555/5,694/6,721/5,749/6,778/3,833/2,945/1,1000/2,1055/3,1111/4,1139/3,1166/4,1333/6,1417/8,1500/9,1529/7,1556/6,1566/5}
\den{MYC2_SRX6460103(MYC2_JA_2hr_ChIPseq_rep3)}{corg}{304/1,333/2,361/4,388/2,416/3,472/2,500/4,527/5,555/6,582/5,610/6,639/7,694/8,721/6,749/7,778/8,806/9,833/8,888/9,917/7,945/9,972/7,1000/8,1027/9,1111/7,1139/8,1166/6,1250/7,1305/6,1333/5,1445/6,1472/7,1500/8,1556/7,1566/6}
\den{MYC2_SRX6460104(MYC2_JA_2hr_ChIPseq_rep4)}{corg}{276/9,304/7,443/5,500/4,555/2,582/3,610/2,639/1,666/2,694/1,749/2,778/3,806/2,833/1,860/2,888/3,917/5,1055/4,1084/5,1111/6,1194/5,1250/3,1278/4,1390/5,1417/6,1445/5,1472/4,1529/5,1556/7,1566/8}
\den{MYC3_SRX6460105(MYC3_JA_2hr_ChIPseq_rep1)}{corg}{249/8,276/9,304/7,333/6,361/5,416/7,443/6,527/5,555/4,610/5,639/3,666/2,694/1,778/2,806/3,833/2,917/3,1194/1,1223/2,1250/3,1305/2,1529/1,1556/3,1566/4}
\wig{MYC3_SRX6460106(MYC3_JA_2hr_ChIPseq_rep2)}{corg}{249/17,276/19,333/32,361/40,388/36,416/40,443/29,472/26,500/36,527/44,582/51,610/42,639/51,666/32,721/42,749/36,778/44,833/49,860/26,888/21,945/6,972/17,1000/24,1027/17,1055/13,1084/4,1111/6,1139/9,1166/13,1194/2,1223/13,1250/4,1278/6,1305/11,1333/6,1362/13,1390/19,1417/24,1445/36,1472/40,1500/42,1529/24,1566/29}
\den{MYC3_SRX6460107(MYC3_JA_2hr_ChIPseq_rep3)}{corg}{249/8,304/6,333/4,361/5,388/4,416/5,443/3,555/4,639/5,666/4,694/5,721/6,749/5,806/7,833/8,917/9,945/7,1000/8,1084/7,1111/8,1166/7,1223/6,1250/5,1278/3,1305/4,1333/2,1500/1,1566/2}
\wig{PHE1_SRX5676333(silique.gfp.wt_rep1)}{corg}{304/7,361/4,443/7,527/2,582/4,610/9,639/20,666/25,694/22,721/20,749/17,778/14,833/11,888/17,1027/20,1055/22,1111/25,1139/33,1166/31,1194/20,1278/22,1305/25,1333/28,1362/31,1472/33,1500/31,1529/33,1556/44,1566/51}
\den{PHE1_SRX5676335(silique.gfp.wt_rep2)}{corg}{249/3,276/4,361/6,416/8,472/4,639/1,721/4,778/8,833/4,860/8,888/9,945/8,972/4,1000/3,1027/6,1084/9,1111/8,1139/9,1166/8,1194/6,1223/3,1250/1,1278/4,1305/6,1362/3,1445/1,1472/3,1566/8}
\den{PIF7_SRX5454258(PIF7::PIF7-MYC (D108)_ZT12_27C)}{corg}{249/6,416/9,443/3,472/9,500/6,582/3,639/1,806/3,945/1,1000/6,1166/1,1194/3,1223/1,1250/6,1417/9,1500/6,1566/1}
\den{PIF7_SRX5454260(PIF7::PIF7-MYC (D108)_ZT8_27C)}{corg}{333/7,361/8,388/6,416/4,443/2,778/1,806/2,860/1,972/2,1000/4,1027/5,1055/4,1139/6,1223/8,1333/9,1417/8,1472/7,1529/6,1566/5}
\wig{PIF7_SRX5454262(PIF7::PIF7-MYC (D108)_ZT12_27C)}{corg}{249/51,276/41,304/30,361/24,388/26,472/30,500/23,527/16,582/19,610/23,666/12,694/8,721/5,749/8,860/19,917/23,1055/12,1084/19,1166/16,1194/12,1223/16,1250/12,1278/16,1305/8,1333/2,1362/5,1390/8,1566/19}
\den{RBR1_SRX3531272(RBR1_ChIP_rep1)}{corg}{333/1,361/2,388/1,416/3,472/4,555/3,610/4,666/5,694/6,721/5,806/4,833/5,917/4,945/3,1000/2,1027/3,1084/4,1139/6,1166/5,1278/6,1472/7,1529/9,1566/8}
\wig{RBR1_SRX3531273(RBR1_ChIP_rep2)}{corg}{249/28,304/30,333/33,361/30,443/28,472/18,500/11,527/16,555/14,610/9,666/11,694/9,721/6,749/4,778/9,806/4,833/2,888/4,917/11,972/16,1000/23,1027/30,1084/42,1194/51,1305/49,1362/42,1445/49,1500/42,1529/47,1556/49,1566/42}
\den{SE_ERX2858751(Arabidopsis Col-0 WT seedlings biorep1)}{corg}{276/1,361/2,500/3,721/4,806/3,972/2,1027/3,1055/5,1139/3,1166/5,1223/7,1362/8,1390/9,1472/8,1566/7}
\wig{SE_ERX2858752(Arabidopsis Col-0 WT seedlings biorep1)}{corg}{249/2,276/8,361/14,500/20,721/26,778/20,806/21,972/15,1027/21,1055/27,1139/21,1166/27,1223/38,1362/44,1390/51,1472/44,1566/38}
\den{SE_ERX2858753(Arabidopsis Col-0 WT seedlings biorep1)}{corg}{276/8,304/9,333/8,388/7,472/5,500/4,555/2,888/1,1139/3,1194/4,1250/3,1390/4,1417/5,1445/4,1566/2}
\wig{SHL_SRX3226098(SHL ChIPSeq-1)}{corg}{443/51}
\den{SHL_SRX3226099(SHL ChIPSeq-2)}{corg}{333/9,527/0,1084/9,1194/0,1278/1,1566/9}
\wig{SMXL6_SRX7187013(s678 SMXL6HA_ChIPseq_Rep1)}{corg}{249/18,276/14,304/18,361/10,416/18,527/22,555/30,582/26,610/30,639/34,666/43,694/39,778/43,833/26,860/22,972/51,1027/47,1084/43,1139/34,1166/26,1194/22,1223/14,1250/10,1333/26,1417/39,1445/10,1472/14,1566/2}
\wig{SMXL6_SRX7187015(s678 SMXL6HA_ChIPseq_Rep2)}{corg}{249/10,276/2,304/10,333/13,361/16,388/19,472/25,527/28,582/25,610/22,666/19,694/13,749/10,778/7,806/19,833/31,860/25,888/22,945/31,1000/28,1027/34,1084/28,1139/25,1166/40,1194/46,1223/49,1278/46,1305/49,1333/51,1362/43,1390/34,1417/31,1445/49,1472/43,1500/40,1556/37,1566/34}
\den{SOB3_SRX5001348(SOB3-GFP ChIP replicate 1)}{corg}{249/7,304/8,333/7,416/8,443/7,500/6,527/5,582/3,945/1,972/2,1000/3,1084/5,1278/6,1305/5,1333/6,1362/7,1417/8,1445/7,1472/8,1500/9,1566/8}
\den{SOB3_SRX5001349(SOB3-GFP ChIP replicate 2)}{corg}{500/1,527/2,639/1,666/2,694/1,806/2,860/1,945/2,972/3,1027/4,1055/3,1084/1,1166/3,1194/5,1223/6,1250/8,1278/6,1333/7,1362/8,1417/7,1556/8,1566/9}
\den{SOG1_SRX3866936(IP_SOG1-3xFLAG_20min)}{corg}{249/3,582/2,639/1,945/2,972/3,1084/7,1111/5,1166/6,1194/7,1250/5,1278/4,1333/3,1362/6,1390/7,1445/8,1472/9,1500/8,1529/7,1566/5}
\den{SOG1_SRX3866937(IP_SOG1-3xFLAG_1h)}{corg}{388/1,416/2,500/3,527/4,555/6,582/7,610/6,721/8,749/9,778/8,806/9,833/8,888/9,917/8,945/9,972/8,1000/7,1027/8,1084/7,1111/8,1139/6,1166/7,1194/5,1250/7,1278/8,1305/7,1333/5,1390/4,1445/3,1500/4,1529/5,1566/4}
\den{SPL7-SRX250135 (SRX250135: FLAG-SPL7 ChIP-seq)}{corg}{304/8,555/5,582/4,721/3,749/1,917/0,1194/1,1223/3,1472/9,1566/6}
\den{SPT6L_SRX5169086(SPT6L-GFP IP rep1)}{corg}{304/9,361/8,388/7,416/6,443/7,472/8,527/7,555/9,582/8,639/5,721/4,917/3,945/7,972/9,1000/7,1027/6,1084/3,1139/1,1166/2,1500/3,1529/2,1566/3}
\den{SPT6L_SRX5169087(SPT6L-GFP IP rep2)}{corg}{249/9,304/8,443/7,472/8,500/7,527/6,610/5,639/4,694/3,1417/1,1445/2,1556/3,1566/5}
\den{STZ_SRX6460108(STZ_AIR_ChIPseq_rep1)}{corg}{249/1,304/2,333/3,416/2,443/3,527/2,639/1,833/3,888/4,945/6,1055/4,1084/5,1194/4,1223/3,1250/2,1278/4,1305/5,1333/7,1390/8,1417/9,1445/8,1472/6,1500/7,1529/9,1566/8}
\wig{STZ_SRX6460109(STZ_AIR_ChIPseq_rep2)}{corg}{276/4,388/9,416/2,443/7,472/4,527/9,555/20,582/23,610/17,639/12,666/20,694/30,749/36,778/46,806/51,833/49,860/44,917/38,972/41,1000/33,1027/38,1084/33,1139/25,1194/33,1223/23,1305/20,1333/17,1362/12,1390/23,1417/25,1445/28,1472/30,1500/20,1529/38,1556/41,1566/44}
\den{STZ_SRX6460110(STZ_AIR_ChIPseq_rep3)}{corg}{304/5,361/2,416/1,443/3,555/1,610/2,639/3,778/2,806/3,860/4,888/6,917/7,972/8,1000/7,1055/8,1084/7,1111/9,1166/8,1194/6,1305/7,1362/8,1417/7,1445/5,1500/3,1566/2}
\den{STZ_SRX6460111(STZ_JA_2hr_ChIPseq_rep1)}{corg}{276/7,333/8,416/7,443/6,472/5,500/4,527/5,582/4,610/3,694/2,833/1,888/2,945/3,1027/4,1055/5,1111/3,1139/4,1194/5,1223/6,1250/7,1278/6,1333/8,1362/9,1390/8,1500/7,1529/6,1556/7,1566/6}
\wig{TCP4_SRX4168241(mTCP4_ChIP)}{corg}{304/39,333/33,361/26,472/33,500/26,582/33,610/39,666/45,694/39,778/45,806/39,860/51,972/45,1000/26,1055/39,1084/26,1139/39,1166/33,1194/26,1223/20,1250/8,1362/2,1390/8,1417/14,1472/33,1500/26,1556/33,1566/26}
\den{TFL1_ERX2826885(gTFL1-1xVenus_biorep1)}{corg}{249/1,276/2,304/5,333/2,443/5,500/1,527/2,610/7,666/9,749/7,778/5,806/7,833/5,888/2,1027/1,1055/7,1084/5,1111/1,1166/2,1250/7,1305/5,1333/2,1362/1,1500/2,1566/5}
\wig{TFL1_ERX2826887(gTFL1-1xVenus_biorep3)}{corg}{249/51,276/47,333/42,361/37,388/27,416/32,443/27,500/23,555/17,806/12,888/7,917/3,945/12,1000/7,1111/12,1139/32,1194/51,1250/47,1305/42,1333/51,1362/47,1472/51,1556/47,1566/42}
\end{tikzpicture}
\end{document}
